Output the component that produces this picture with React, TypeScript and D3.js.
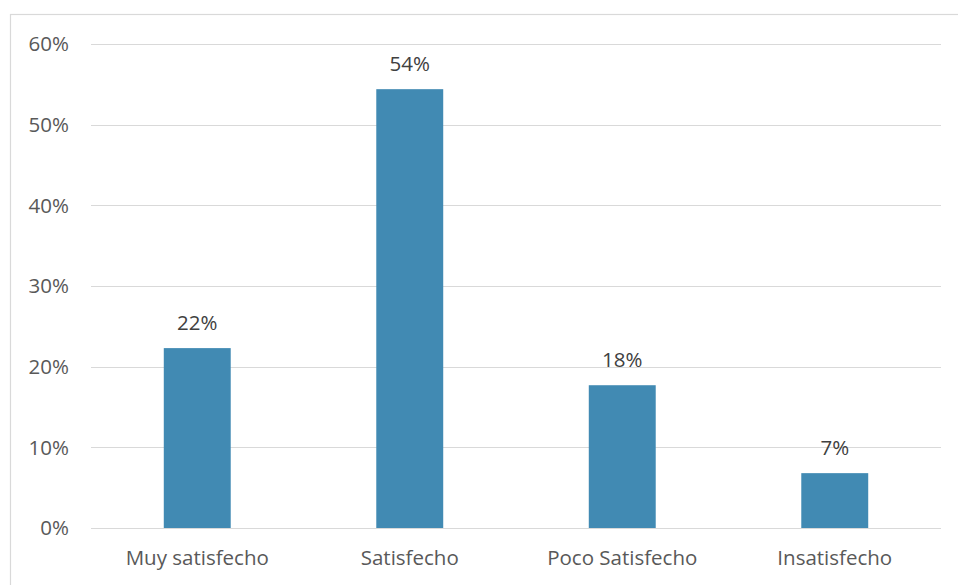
import React from "react";
import * as d3 from "d3";

const categories = ["Muy satisfecho", "Satisfecho", "Poco Satisfecho", "Insatisfecho"];
const values = [0.223, 0.544, 0.177, 0.068];
const valueLabels = ["22%", "54%", "18%", "7%"];
const yTicks = [0, 0.1, 0.2, 0.3, 0.4, 0.5, 0.6];

export default function App() {
  const W = 958, H = 585;
  const left = 91, right = 941, top = 44, bottom = 528;
  const x = d3.scaleBand<string>().domain(categories).range([left, right]).paddingInner(0.685).paddingOuter(0.3425);
  const y = d3.scaleLinear().domain([0, 0.6]).range([bottom, top]);
  const fmt = d3.format(".0%");
  const font = "'Open Sans', 'Liberation Sans', sans-serif";
  const fs = 20.5;
  return (
    <svg width={W} height={H} style={{ position: "absolute", left: 0, top: 0 }} fontFamily={font}>
      <rect x={0} y={0} width={W} height={H} fill="#fff" />
      <rect x={10.5} y={14.5} width={W + 10} height={H + 10} fill="none" stroke="#d9d9d9" strokeWidth={1.2} />
      {yTicks.map((t) => (
        <g key={t}>
          <line x1={left} x2={right} y1={Math.round(y(t)) + 0.5} y2={Math.round(y(t)) + 0.5} stroke="#d9d9d9" strokeWidth={1.2} />
          <text x={69} y={y(t)} dy="0.35em" textAnchor="end" fontSize={fs} fill="#595959">{fmt(t)}</text>
        </g>
      ))}
      {categories.map((c, i) => (
        <g key={c}>
          <rect x={x(c)!} y={y(values[i])} width={x.bandwidth()} height={bottom - y(values[i])} fill="#418AB3" />
          <text x={x(c)! + x.bandwidth() / 2} y={y(values[i]) - 25} dy="0.35em" textAnchor="middle" fontSize={fs} fill="#404040">{valueLabels[i]}</text>
          <text x={x(c)! + x.bandwidth() / 2} y={558} dy="0.35em" textAnchor="middle" fontSize={fs} fill="#595959">{c}</text>
        </g>
      ))}
    </svg>
  );
}
